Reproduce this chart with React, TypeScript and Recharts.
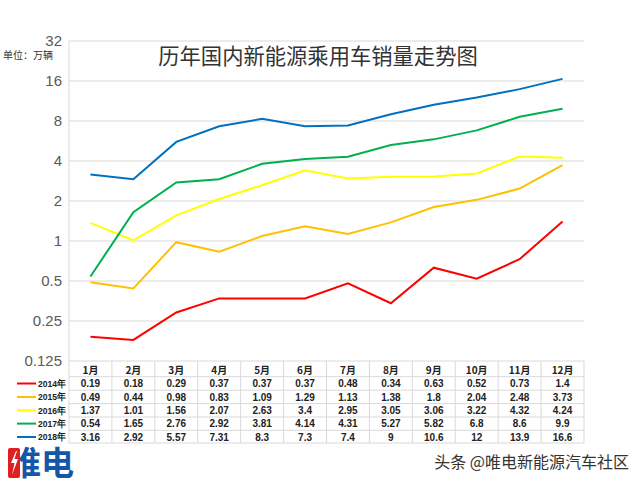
import React from 'react';
import { LineChart, Line, XAxis, YAxis, CartesianGrid } from 'recharts';

const months = ['1月', '2月', '3月', '4月', '5月', '6月', '7月', '8月', '9月', '10月', '11月', '12月'];
const years = ['2014年', '2015年', '2016年', '2017年', '2018年'];
const sales2014 = [0.19, 0.18, 0.29, 0.37, 0.37, 0.37, 0.48, 0.34, 0.63, 0.52, 0.73, 1.4];
const sales2015 = [0.49, 0.44, 0.98, 0.83, 1.09, 1.29, 1.13, 1.38, 1.8, 2.04, 2.48, 3.73];
const sales2016 = [1.37, 1.01, 1.56, 2.07, 2.63, 3.4, 2.95, 3.05, 3.06, 3.22, 4.32, 4.24];
const sales2017 = [0.54, 1.65, 2.76, 2.92, 3.81, 4.14, 4.31, 5.27, 5.82, 6.8, 8.6, 9.9];
const sales2018 = [3.16, 2.92, 5.57, 7.31, 8.3, 7.3, 7.4, 9, 10.6, 12, 13.9, 16.6];
const yTicks = [0.125, 0.25, 0.5, 1, 2, 4, 8, 16, 32];

const seriesKeys = ['y2014', 'y2015', 'y2016', 'y2017', 'y2018'];
const seriesValues = [sales2014, sales2015, sales2016, sales2017, sales2018];
const seriesColors = ['#ff0000', '#ffc000', '#ffff00', '#00b050', '#0070c0'];

const data = months.map((m, i) => {
  const row: Record<string, string | number> = { month: m };
  seriesKeys.forEach((k, s) => (row[k] = seriesValues[s][i]));
  return row;
});

const CELL_W = 515 / 12;
const ROW_Y = [370, 383.5, 397, 410.3, 423.6, 437];
const gridColor = '#d9d9d9';
const font = '"Liberation Sans", Arial, sans-serif';
const cjk = '"Noto Sans CJK SC", "Liberation Sans", sans-serif';

function TableTick(props: any) {
  const { x, payload, index } = props;
  const left = x - CELL_W / 2;
  const right = x + CELL_W / 2;
  const top = 361;
  const bottom = 443;
  return (
    <g>
      <line x1={left} y1={top} x2={left} y2={bottom} stroke={gridColor} />
      {index === months.length - 1 && <line x1={right} y1={top} x2={right} y2={bottom} stroke={gridColor} />}
      {[376.7, 390.2, 403.6, 417, 430.3, bottom].map((ly) => (
        <line key={ly} x1={left} y1={ly} x2={right} y2={ly} stroke={gridColor} />
      ))}
      <text x={x} y={ROW_Y[0]} dy={4} textAnchor="middle" fontSize={10} fontWeight="bold" fill="#222" fontFamily={cjk}>
        {payload.value}
      </text>
      {seriesValues.map((vals, s) => (
        <text key={s} x={x} y={ROW_Y[s + 1]} dy={3.5} textAnchor="middle" fontSize={10} fontWeight="bold" fill="#222" fontFamily={font}>
          {String(vals[index])}
        </text>
      ))}
    </g>
  );
}

export default function App() {
  return (
    <div style={{ position: 'absolute', left: 0, top: 0, width: 640, height: 482, background: '#fff', fontFamily: font }}>
      <LineChart width={640} height={482} data={data} margin={{ top: 41, right: 56, left: 0, bottom: 21 }}>
        <CartesianGrid vertical={false} stroke={gridColor} />
        <XAxis
          dataKey="month"
          height={100}
          tickSize={0}
          tickMargin={0}
          axisLine={false}
          interval={0}
          padding={{ left: CELL_W / 2, right: CELL_W / 2 }}
          tick={<TableTick />}
        />
        <YAxis
          scale="log"
          domain={[0.125, 32]}
          ticks={yTicks}
          allowDataOverflow
          width={69}
          tickSize={0}
          tickMargin={7}
          tickLine={false}
          axisLine={{ stroke: gridColor }}
          tick={{ fill: '#595959', fontSize: 15, fontFamily: font }}
          tickFormatter={(v: number) => String(v)}
        />
        {seriesKeys.map((k, s) => (
          <Line
            key={k}
            type="linear"
            dataKey={k}
            name={years[s]}
            stroke={seriesColors[s]}
            strokeWidth={2}
            dot={false}
            isAnimationActive={false}
          />
        ))}
      </LineChart>
      <svg width={640} height={482} style={{ position: 'absolute', left: 0, top: 0, pointerEvents: 'none' }}>
        <defs>
          <linearGradient id="logoFill" gradientUnits="userSpaceOnUse" x1={8} y1={0} x2={74} y2={0}>
            <stop offset={0.18} stopColor="#e02020" />
            <stop offset={0.18} stopColor="#1656a8" />
          </linearGradient>
        </defs>
        <text x={318} y={64} textAnchor="middle" fontSize={21.3} fill="#333" fontFamily={cjk}>
          历年国内新能源乘用车销量走势图
        </text>
        <text x={3} y={59} fontSize={10} fill="#333" fontFamily={cjk}>
          单位：万辆
        </text>
        {years.map((y, s) => (
          <g key={y}>
            <line x1={17} y1={ROW_Y[s + 1]} x2={36} y2={ROW_Y[s + 1]} stroke={seriesColors[s]} strokeWidth={2} />
            <text
              x={38}
              y={ROW_Y[s + 1]}
              dy={3.3}
              fontSize={9.5}
              fontWeight="bold"
              fill="#222"
              fontFamily={font}
              textLength={28}
              lengthAdjust="spacingAndGlyphs"
            >
              {y}
            </text>
          </g>
        ))}
        <rect x={8} y={448} width={12} height={30} rx={2} fill="#e02020" />
        <text x={8} y={475} fontSize={33} fontWeight="bold" fill="url(#logoFill)" fontFamily={cjk}>
          唯电
        </text>
        <polygon points="16,451 11,463 14.5,463 12,475 18,459 14.5,459 17,451" fill="#fff" />
        <text x={629} y={468} textAnchor="end" fontSize={16} fill="#333" fontFamily={cjk}>
          头条 @唯电新能源汽车社区
        </text>
      </svg>
    </div>
  );
}
